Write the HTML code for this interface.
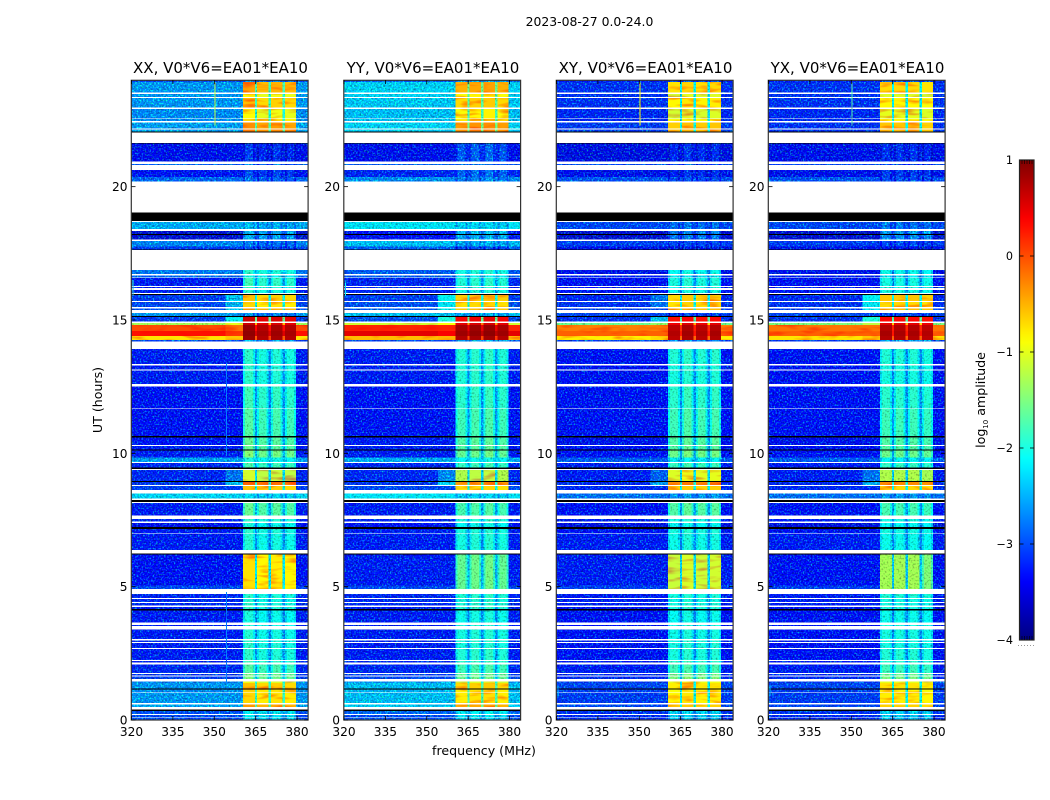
<!DOCTYPE html>
<html>
<head>
<meta charset="utf-8">
<title>2023-08-27 0.0-24.0</title>
<style>
html,body{margin:0;padding:0;background:#fff;width:1050px;height:800px;overflow:hidden}
svg{display:block}
text{font-family:"DejaVu Sans","Liberation Sans",sans-serif;fill:#000}
</style>
</head>
<body>
<svg id="figure" xmlns="http://www.w3.org/2000/svg" width="1050" height="800" viewBox="0 0 1050 800">
<defs>
<filter id="speckle" filterUnits="userSpaceOnUse" x="120" y="70" width="840" height="660" color-interpolation-filters="sRGB">
<feTurbulence type="fractalNoise" baseFrequency="0.62" numOctaves="1" seed="7" result="n1"/>
<feColorMatrix in="n1" type="matrix" values="0 0 0 0 0  2.2 0 0 0 -1.08  0 0 0 0 0  0 0 0 0 1" result="greenNoise"/>
<feTurbulence type="fractalNoise" baseFrequency="0.55" numOctaves="1" seed="23" result="n2"/>
<feColorMatrix in="n2" type="matrix" values="0 1.1 0 0 0.42  0 1.1 0 0 0.42  0 1.1 0 0 0.42  0 0 0 0 1" result="shade"/>
<feComposite in="SourceGraphic" in2="shade" operator="arithmetic" k1="1" k2="0" k3="0" k4="0" result="shaded"/>
<feComposite in="shaded" in2="greenNoise" operator="arithmetic" k1="0" k2="1" k3="1" k4="0" result="sum"/>
<feComposite in="sum" in2="SourceAlpha" operator="in"/>
</filter>
<filter id="streak" filterUnits="userSpaceOnUse" x="120" y="70" width="840" height="660" color-interpolation-filters="sRGB">
<feTurbulence type="fractalNoise" baseFrequency="0.05 0.22" numOctaves="2" seed="11" result="n3"/>
<feColorMatrix in="n3" type="matrix" values="0 0 0 0 1  1.3 0 0 0 0.32  0 0 0 0 1  0 0 0 0 1" result="greenShade"/>
<feComposite in="SourceGraphic" in2="greenShade" operator="arithmetic" k1="1" k2="0" k3="0" k4="0" result="mult"/>
<feComposite in="mult" in2="SourceAlpha" operator="in"/>
</filter>
<linearGradient id="colorbar-gradient" x1="0" y1="1" x2="0" y2="0"></linearGradient>
</defs>
<text x="589.5" y="26" text-anchor="middle" font-size="12.4">2023-08-27 0.0-24.0</text>
<text transform="translate(102,400) rotate(-90)" text-anchor="middle" font-size="12.6">UT (hours)</text>
<text x="484" y="755" text-anchor="middle" font-size="12.6">frequency (MHz)</text>
<g id="panels"></g>
<g id="colorbar"></g>
<text transform="translate(985,400) rotate(-90)" text-anchor="middle" font-size="12.6">log<tspan font-size="7" dy="3">10</tspan><tspan dy="-3"> amplitude</tspan></text>
</svg>
<script>
// Time segments in UT hours (gaps between them are unobserved and stay white)
const segmentTop = [
23.99,23.93,23.48,23.33,22.91,22.53,22.41,22.15,22.06,21.63,
21.61,20.85,20.63,20.37,19.04,18.68,18.34,18.23,18.19,17.96,
17.75,17.65,16.88,16.67,16.58,16.24,16.13,15.98,15.94,15.68,
15.44,15.27,15.15,15.12,14.88,14.81,14.59,14.4,14.25,13.92,
13.3,13.11,12.5,11.66,10.65,10.6,10.28,10.15,10.1,9.84,
9.64,9.46,9.38,8.97,8.93,8.78,8.5,8.25,8.14,7.53,
7.39,7.23,7.17,6.99,6.24,6.2,5.04,4.73,4.53,4.38,
4.24,4.16,4.11,3.57,3.4,2.99,2.89,2.66,2.21,2.09,
1.73,1.64,1.44,1.38,1.19,1.15,1.01,0.59,0.4,0.34,0.19,0.1];
const segmentBottom = [
23.93,23.53,23.37,22.97,22.56,22.46,22.18,22.06,22.04,21.61,
20.94,20.81,20.37,20.19,18.71,18.41,18.23,18.19,18.02,17.75,
17.65,17.63,16.73,16.59,16.28,16.2,16.02,15.94,15.71,15.48,
15.38,15.15,15.12,14.94,14.81,14.59,14.4,14.25,14.19,13.35,
13.15,12.6,11.69,10.65,10.6,10.31,10.15,10.1,9.84,9.68,
9.46,9.41,8.97,8.93,8.81,8.63,8.31,8.18,7.66,7.44,
7.23,7.17,7.02,6.38,6.2,5.04,4.92,4.58,4.43,4.29,
4.16,4.11,3.65,3.53,3.03,2.93,2.7,2.25,2.16,1.76,
1.66,1.54,1.38,1.19,1.15,1.04,0.63,0.48,0.34,0.23,0.12,0];

// log10 amplitude per segment (null = black row)
const xxOff = [
-3.1,-2.72,-2.72,-2.72,-2.78,-2.78,-2.68,-2.68,null,null,
-3.42,-3.0,-3.36,-2.97,null,-2.62,-3.55,null,-3.55,-2.82,
-3.17,null,-2.87,-2.97,-3.32,-3.32,-3.32,null,-3.17,-3.12,
-3.07,-2.72,null,-3.17,-1.3,0.0,0.3,-0.75,-3.12,-3.32,
-3.32,-3.32,-3.37,-3.37,null,-3.37,-3.32,null,-3.32,-2.67,
-3.27,null,-3.27,null,-3.22,-3.17,-2.42,null,-3.32,-3.27,
-3.42,null,-3.32,-3.32,null,-3.37,-3.12,-3.27,-3.27,-3.27,
-3.32,null,-3.32,-3.32,-3.32,-3.27,-3.32,-3.32,-3.27,-3.27,
-3.22,-3.17,-2.82,-2.72,null,-2.77,-2.72,-2.67,null,-3.07,-3.12,-3.12];
const xxBand = [
-2.7,-0.55,-1.0,-0.7,-1.0,-0.8,-0.45,-0.35,null,null,
-3.15,-2.9,-3.05,-2.9,null,-2.5,-2.5,null,-2.6,-2.82,
-3.05,null,-1.9,-2.1,-1.8,-1.9,-1.9,null,-0.7,-0.8,
-0.6,-2.7,null,0.5,0.5,0.75,0.8,0.75,-2.5,-1.9,
-1.9,-1.9,-1.8,-1.7,null,-1.6,-1.6,null,-1.45,-2.0,
-1.75,null,-1.2,null,-0.25,-0.7,-2.3,null,-1.6,-1.85,
-2.0,null,-1.9,-1.95,null,-0.85,-0.85,-1.9,-1.95,-1.9,
-1.9,null,-2.0,-1.95,-1.95,-1.9,-1.9,-1.9,-1.8,-1.7,
-1.5,-1.5,-1.1,-0.7,null,-0.8,-0.8,-0.5,null,-2.2,-2.2,-2.3];
const yyOff = [
-3.0,-2.42,-2.42,-2.47,-2.52,-2.52,-2.42,-2.42,null,null,
-3.42,-3.0,-3.27,-2.77,null,-2.32,-3.37,null,-3.37,-2.52,
-3.02,null,-3.02,-3.02,-3.27,-3.27,-3.27,null,-3.17,-3.07,
-3.02,-2.52,null,-3.07,-1.1,0.2,0.5,-0.55,-3.12,-3.32,
-3.32,-3.32,-3.37,-3.37,null,-3.32,-3.32,null,-3.32,-2.62,
-3.27,null,-3.27,null,-3.22,-3.12,-2.32,null,-3.32,-3.27,
-3.37,null,-3.32,-3.32,null,-3.32,-3.12,-3.27,-3.27,-3.27,
-3.32,null,-3.32,-3.32,-3.32,-3.27,-3.32,-3.32,-3.27,-3.27,
-3.17,-3.12,-2.72,-2.52,null,-2.57,-2.52,-2.47,null,-2.97,-3.12,-3.07];
const yyBand = [
-2.5,-0.5,-0.9,-0.7,-0.9,-0.8,-0.4,-0.35,null,null,
-2.9,-2.8,-2.85,-2.7,null,-2.3,-2.4,null,-2.5,-2.5,
-3.0,null,-1.9,-2.1,-1.85,-1.9,-1.9,null,-0.65,-0.75,
-0.6,-2.5,null,0.4,0.5,0.8,0.85,0.75,-2.5,-1.85,
-1.85,-1.85,-1.8,-1.7,null,-1.6,-1.6,null,-1.5,-2.0,
-1.75,null,-1.25,null,-0.4,-0.75,-2.3,null,-1.65,-1.85,
-2.0,null,-1.9,-1.9,null,-1.5,-1.5,-1.85,-1.9,-1.85,
-1.85,null,-1.95,-1.9,-1.9,-1.85,-1.9,-1.85,-1.8,-1.7,
-1.5,-1.5,-1.1,-0.7,null,-0.8,-0.8,-0.5,null,-2.1,-2.2,-2.3];
const xyOff = [
-3.32,-3.22,-3.22,-3.22,-3.27,-3.27,-3.17,-3.17,null,null,
-3.47,-3.12,-3.42,-3.07,null,-3.12,-3.55,null,-3.55,-3.17,
-3.42,null,-3.42,-3.32,-3.37,-3.37,-3.37,null,-3.27,-3.22,
-3.17,-3.12,null,-3.22,-1.6,-0.25,-0.1,-0.8,-3.17,-3.37,
-3.37,-3.37,-3.37,-3.37,null,-3.42,-3.37,null,-3.37,-3.02,
-3.32,null,-3.32,null,-3.27,-3.27,-2.92,null,-3.37,-3.32,
-3.47,null,-3.37,-3.32,null,-3.32,-3.17,-3.32,-3.32,-3.32,
-3.37,null,-3.37,-3.37,-3.37,-3.32,-3.37,-3.37,-3.32,-3.32,
-3.27,-3.27,-3.17,-3.12,null,-3.17,-3.17,-3.12,null,-3.22,-3.27,-3.27];
const xyBand = [
-2.9,-0.75,-1.1,-0.85,-1.1,-0.9,-0.65,-0.6,null,null,
-3.15,-3.0,-3.15,-3.0,null,-2.8,-2.7,null,-2.8,-3.0,
-3.3,null,-2.0,-2.2,-1.9,-1.95,-1.95,null,-0.7,-0.75,
-0.6,-3.0,null,0.3,0.45,0.7,0.75,0.7,-2.6,-1.85,
-1.9,-1.9,-1.8,-1.7,null,-1.6,-1.6,null,-1.45,-2.1,
-1.75,null,-1.05,null,-0.3,-0.7,-2.6,null,-1.6,-1.9,
-2.05,null,-1.9,-1.95,null,-1.15,-1.15,-1.9,-1.95,-1.9,
-1.9,null,-2.0,-1.95,-1.95,-1.9,-1.9,-1.9,-1.8,-1.7,
-1.45,-1.4,-1.0,-0.8,null,-0.9,-0.85,-0.7,null,-2.3,-2.3,-2.4];
const yxOff = [
-3.32,-3.22,-3.22,-3.22,-3.27,-3.27,-3.22,-3.22,null,null,
-3.42,-3.12,-3.42,-3.07,null,-3.12,-3.55,null,-3.55,-3.17,
-3.42,null,-3.42,-3.32,-3.37,-3.37,-3.37,null,-3.27,-3.22,
-3.17,-3.12,null,-3.22,-1.5,-0.2,-0.1,-0.75,-3.17,-3.37,
-3.37,-3.37,-3.37,-3.37,null,-3.42,-3.37,null,-3.37,-3.02,
-3.32,null,-3.32,null,-3.27,-3.27,-2.92,null,-3.37,-3.32,
-3.47,null,-3.37,-3.32,null,-3.37,-3.17,-3.32,-3.32,-3.32,
-3.37,null,-3.37,-3.37,-3.37,-3.32,-3.37,-3.37,-3.32,-3.32,
-3.27,-3.27,-3.17,-3.12,null,-3.17,-3.17,-3.12,null,-3.22,-3.27,-3.27];
const yxBand = [
-2.9,-0.75,-1.1,-0.9,-1.05,-0.9,-0.65,-0.6,null,null,
-3.15,-3.0,-3.1,-3.0,null,-2.8,-2.6,null,-2.7,-3.0,
-3.3,null,-2.0,-2.2,-1.95,-1.95,-1.95,null,-0.65,-0.75,
-0.6,-3.0,null,0.3,0.45,0.7,0.75,0.7,-2.6,-1.9,
-1.95,-1.95,-1.85,-1.75,null,-1.65,-1.65,null,-1.5,-2.1,
-1.8,null,-1.3,null,-0.35,-0.75,-2.6,null,-1.7,-1.95,
-2.05,null,-1.95,-2.0,null,-1.35,-1.35,-1.9,-1.95,-1.95,
-1.95,null,-2.0,-1.95,-1.95,-1.95,-1.95,-1.9,-1.85,-1.75,
-1.5,-1.45,-1.05,-0.8,null,-0.9,-0.85,-0.7,null,-2.3,-2.35,-2.4];

// Off-band shoulder just below the observing band, only where it differs (segment index -> level)
const xxNear = {28:-2.5,29:-2.6,30:-2.5,33:-2.2,34:-1.0,35:-0.2,36:0.1,37:-0.6,52:-2.9,54:-2.5};
const yyNear = {28:-2.2,29:-2.3,30:-2.2,33:-2.0,34:-0.9,35:0.2,36:0.4,37:-0.5,52:-2.8,54:-2.4};
const xyNear = {28:-2.9,29:-2.9,33:-2.5,34:-1.4,35:-0.25,36:-0.1,37:-0.7,52:-3.0,54:-2.7};
const yxNear = {28:-2.2,29:-2.3,30:-2.3,33:-2.0,34:-1.2,35:-0.2,36:-0.1,37:-0.6,52:-2.9,54:-2.6};

// Relative level of each of the four sub-bands
const xxSub = [0.12,0.0,0.05,0.0];
const yySub = [0.0,0.05,0.08,0.0];
const xySub = [0.0,0.08,0.02,0.05];
const yxSub = [0.05,0.05,0.05,0.0];

// Frequency structure in MHz
const shoulderStart = 354;
const subBandStart = [360.4,365.5,370.5,375.6];
const subBandEnd = [364.8,369.7,374.8,379.7];
const freqMin = 320;
const freqMax = 384;

// Narrow-band interference: panel, MHz, UT start, UT end, level
const rfiPanel = [0,0,0,2,3,0,1,2,3];
const rfiFreq = [354.3,354.3,350,350,350,320.3,320.3,320.3,320.3];
const rfiStart = [9.9,1.3,22.3,22.3,22.3,15.9,15.9,0.9,0.9];
const rfiEnd = [13.4,4.8,23.9,23.9,23.9,16.5,16.4,1.3,1.3];
const rfiLevel = [-2.7,-2.7,-1.2,-0.9,-1.7,-1.9,-2.1,-2.4,-2.4];

// Axes labels
const panelTitles = ["XX, V0*V6=EA01*EA10","YY, V0*V6=EA01*EA10","XY, V0*V6=EA01*EA10","YX, V0*V6=EA01*EA10"];
const panelKeys = ["xx","yy","xy","yx"];
const freqTicks = [320,335,350,365,380];
const hourTicks = [0,5,10,15,20];
const colorbarTicks = [-4,-3,-2,-1,0,1];

const offSeries = [xxOff,yyOff,xyOff,yxOff];
const bandSeries = [xxBand,yyBand,xyBand,yxBand];
const nearSeries = [xxNear,yyNear,xyNear,yxNear];
const subSeries = [xxSub,yySub,xySub,yxSub];

const SVGNS = "http://www.w3.org/2000/svg";
const panelLeft = [131.5,344,556.5,768.5];
const panelWidth = 176.6;
const plotTop = 80;
const plotBottom = 720;
const levelMin = -4;
const levelMax = 1;
const subEdgeWidth = 0.75;
const subEdgeDrop = 0.3;
const faintLimit = -1.3;
const faintTrim = 0.12;

function clamp01(v){return Math.max(0,Math.min(1,v));}
function jetColor(level){
  const t = clamp01((level-levelMin)/(levelMax-levelMin));
  const r = clamp01(Math.min(4*t-1.5,-4*t+4.5));
  const g = clamp01(Math.min(4*t-0.5,-4*t+3.5));
  const b = clamp01(Math.min(4*t+0.5,-4*t+2.5));
  return "rgb("+Math.round(r*255)+","+Math.round(g*255)+","+Math.round(b*255)+")";
}
function yScale(hour){return plotBottom-(hour/24)*(plotBottom-plotTop);}
function xScale(panel,mhz){return panelLeft[panel]+(mhz-freqMin)/(freqMax-freqMin)*panelWidth;}
function make(tag,parent){
  const el = document.createElementNS(SVGNS,tag);
  parent.appendChild(el);
  return el;
}
function addCell(parent,panel,f0,f1,top,bottom,color){
  const r = make("rect",parent);
  
  
  const x0 = xScale(panel,f0), x1 = xScale(panel,f1), y0 = yScale(top), y1 = yScale(bottom);
  r.setAttribute("x",x0.toFixed(2));
  r.setAttribute("y",y0.toFixed(2));
  r.setAttribute("width",(x1-x0).toFixed(2));
  r.setAttribute("height",(y1-y0).toFixed(2));
  r.setAttribute("fill",color);
  r.setAttribute("shape-rendering","crispEdges");
}
function addLine(parent,name,x1,y1,x2,y2,stroke,width){
  const l = make("line",parent);
  
  
  l.setAttribute("x1",x1);
  l.setAttribute("y1",y1);
  l.setAttribute("x2",x2);
  l.setAttribute("y2",y2);
  l.setAttribute("stroke",stroke);
  l.setAttribute("stroke-width",width);
}
function addText(parent,name,x,y,anchor,size,str){
  const t = make("text",parent);
  
  
  t.setAttribute("x",x);
  t.setAttribute("y",y);
  t.setAttribute("text-anchor",anchor);
  t.setAttribute("font-size",size);
  t.textContent = str;
}
function tickText(v){return v<0?"\u2212"+Math.abs(v):String(v);}

const panelsRoot = document.getElementById("panels");
panelKeys.forEach(function(key,p){
  const g = make("g",panelsRoot);
  
  
  const noisy = make("g",g);
  
  
  noisy.setAttribute("filter","url(#speckle)");
  const smooth = make("g",g);
  
  
  smooth.setAttribute("filter","url(#streak)");
  const off = offSeries[p], band = bandSeries[p], near = nearSeries[p], sub = subSeries[p];
  segmentTop.forEach(function(top,i){
    const bottom = segmentBottom[i];
    if(off[i]===null||band[i]===null){
      addCell(smooth,p,freqMin,freqMax,top,bottom,"#000");
      return;
    }
    const host = function(level){return level>-1.25?smooth:noisy;};
    const offLevel = off[i];
    const hasNear = near[i]!==undefined;
    const nearLevel = hasNear?near[i]:offLevel;
    if(hasNear){
      addCell(host(offLevel),p,freqMin,shoulderStart,top,bottom,jetColor(offLevel));
      addCell(host(nearLevel),p,shoulderStart,subBandStart[0],top,bottom,jetColor(nearLevel));
    }else{
      addCell(host(offLevel),p,freqMin,subBandStart[0],top,bottom,jetColor(offLevel));
    }
    sub.forEach(function(delta,s){
      let level = band[i]+delta;
      const faint = level<faintLimit;
      if(faint){ level -= faintTrim; }
      if(faint){
        const edge = level-subEdgeDrop;
        addCell(host(edge),p,subBandStart[s],subBandStart[s]+subEdgeWidth,top,bottom,jetColor(edge));
        addCell(host(level),p,subBandStart[s]+subEdgeWidth,subBandEnd[s]-subEdgeWidth,top,bottom,jetColor(level));
        addCell(host(edge),p,subBandEnd[s]-subEdgeWidth,subBandEnd[s],top,bottom,jetColor(edge));
      }else{
        addCell(host(level),p,subBandStart[s],subBandEnd[s],top,bottom,jetColor(level));
      }
      if(s<sub.length-1){
        const gapLevel = offLevel+0.42*(level-offLevel);
        addCell(host(gapLevel),p,subBandEnd[s],subBandStart[s+1],top,bottom,jetColor(gapLevel));
      }
    });
    addCell(host(offLevel),p,subBandEnd[3],freqMax,top,bottom,jetColor(offLevel));
  });
  rfiPanel.forEach(function(panelIndex,i){
    if(panelIndex!==p) return;
    addCell(smooth,p,rfiFreq[i],rfiFreq[i]+0.35,rfiEnd[i],rfiStart[i],jetColor(rfiLevel[i]));
  });
  const left = panelLeft[p], right = left+panelWidth;
  const frame = make("rect",g);
  
  
  frame.setAttribute("x",left-0.2);
  frame.setAttribute("y",plotTop+0.3);
  frame.setAttribute("width",panelWidth+0.2);
  frame.setAttribute("height",plotBottom-plotTop-0.3);
  frame.setAttribute("fill","none");
  frame.setAttribute("stroke","#333");
  frame.setAttribute("stroke-width","1.2");
  freqTicks.forEach(function(f){
    const x = xScale(p,f);
    addLine(g,'x-tick-top',x,plotTop,x,plotTop+4,"#000",0.8);
    addLine(g,'x-tick-bottom',x,plotBottom,x,plotBottom-4,"#000",0.8);
    addText(g,'x-tick-label',x,736,"middle",12.2,String(f));
  });
  hourTicks.forEach(function(h){
    const y = yScale(h);
    addLine(g,'y-tick-left',left,y,left+4,y,"#000",0.8);
    addLine(g,'y-tick-right',right,y,right-4,y,"#000",0.8);
    addText(g,'y-tick-label',left-4,y+4.5,"end",12.2,String(h));
  });
  addText(g,'panel-title',left+89,73,"middle",15,panelTitles[p]);
});

// Colour bar
const gradient = document.getElementById("colorbar-gradient");
const gradientSteps = 50;
for(let i=0;i<=gradientSteps;i++){
  const stop = make("stop",gradient);
  stop.setAttribute("offset",(i/gradientSteps).toFixed(3));
  stop.setAttribute("stop-color",jetColor(levelMin+(levelMax-levelMin)*i/gradientSteps));
}
const cb = document.getElementById("colorbar");
const cbLeft = 1019.5, cbRight = 1034, cbTop = 160, cbBottom = 640;
const cbY = function(v){return cbBottom-(v-levelMin)/(levelMax-levelMin)*(cbBottom-cbTop);};
const cbRect = make("rect",cb);


cbRect.setAttribute("x",cbLeft);
cbRect.setAttribute("y",cbTop);
cbRect.setAttribute("width",cbRight-cbLeft);
cbRect.setAttribute("height",cbBottom-cbTop);
cbRect.setAttribute("fill","url(#colorbar-gradient)");
cbRect.setAttribute("stroke","#222");
cbRect.setAttribute("stroke-width","1.2");
colorbarTicks.forEach(function(v){
  const y = cbY(v);
  addText(cb,'colorbar-tick-label',1013,y+4,"end",11.2,tickText(v));
  if(v>levelMin&&v<levelMax){
    addLine(cb,'colorbar-tick-left',cbLeft,y,cbLeft+4,y,"#000",0.8);
    addLine(cb,'colorbar-tick-right',cbRight,y,cbRight-4,y,"#000",0.8);
  }
});
[1022,1024.5,1027,1029.5,1032].forEach(function(x){
  addLine(cb,'colorbar-end-tick-top',x,cbTop,x,cbTop+4,"#000",0.6);
  addLine(cb,'colorbar-end-tick-bottom',x,cbBottom,x,cbBottom-4,"#000",0.6);
});
[1018,1021,1024,1027,1030,1033].forEach(function(x){
  addLine(cb,'colorbar-minor-dot',x,645.5,x+1,645.5,"#999",1);
});
</script>
</body>
</html>
